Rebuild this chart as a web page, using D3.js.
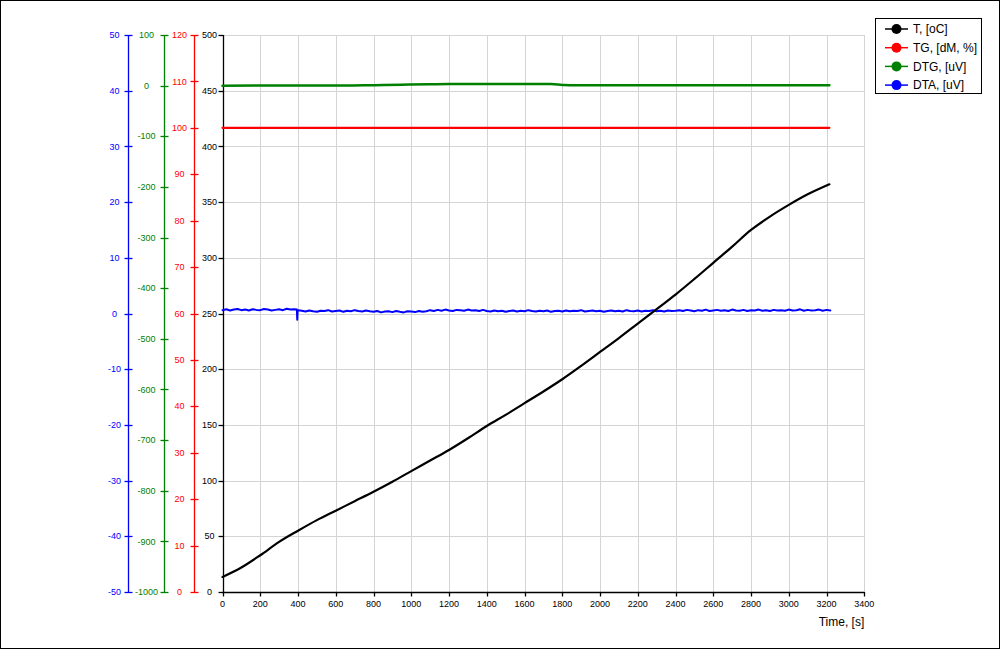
<!DOCTYPE html>
<html><head><meta charset="utf-8">
<script src="https://cdn.jsdelivr.net/npm/d3@7"></script>
<style>body{margin:0;background:#fff}svg{display:block;font-family:"Liberation Sans",Arial,sans-serif}</style>
</head><body><svg id="c" width="1000" height="649"></svg>
<script>
// ---- data ----
const seriesNames = ["T, [oC]", "TG, [dM, %]", "DTG, [uV]", "DTA, [uV]"];
const seriesColors = ["#000000", "#ff0000", "#008000", "#0000ff"];

const tTimes  = [0,100,200,300,400,500,600,700,800,900,1000,1100,1200,1300,1400,1500,1600,1700,1800,1900,2000,2100,2200,2300,2400,2500,2600,2700,2800,2900,3000,3100,3215];
const tValues = [13.5,22,33,45,55,64.5,73,81.5,90,99,108.5,118,127.5,138,149,159,169.5,180,191,203,215.5,228,241,254,267,281,295.5,310,325,337,347.5,357,366];

const tgTimes  = [0, 3215];
const tgValues = [100, 100];

const dtgTimes  = [0, 650, 800, 950, 1100, 1200, 1740, 1800, 1860, 3215];
const dtgValues = [0, 0.2, 1.0, 1.8, 2.8, 3, 3, 1.5, 0.6, 0.6];

const dtaStep = 20;
const dtaValues = [
0.6,0.75,0.55,0.7,0.8,0.6,0.7,0.55,0.75,0.65,0.6,0.8,0.7,0.55,0.65,0.75,0.6,0.85,0.7,0.75,
0.6,
0.5,0.35,0.55,0.4,0.3,0.5,0.45,0.6,0.35,0.45,0.55,0.3,0.5,0.4,0.6,0.45,0.35,0.55,0.4,
0.3,0.45,0.2,0.35,0.4,0.25,0.45,0.3,0.2,0.4,0.35,0.25,0.45,0.3,0.4,
0.6,0.45,0.65,0.5,0.7,0.55,0.45,0.65,0.6,0.5,0.7,0.55,0.6,0.45,0.65,
0.45,0.35,0.55,0.4,0.5,0.3,0.45,0.55,0.35,0.5,
0.4,0.6,0.45,0.35,0.5,0.4,0.55,0.3,0.45,0.5,
0.35,0.55,0.4,0.5,0.45,0.6,0.35,0.45,0.55,0.4,
0.5,0.3,0.45,0.55,0.4,0.5,0.35,0.6,0.45,0.4,
0.55,0.35,0.5,0.45,0.6,0.4,0.5,0.35,0.55,0.45,
0.5,0.6,0.45,0.65,0.55,0.4,0.6,0.5,0.7,0.45,
0.55,0.65,0.5,0.6,0.45,0.7,0.55,0.5,0.65,0.45,
0.6,0.55,0.7,0.5,0.6,0.45,0.65,0.55,0.6,0.5,
0.7,0.55,0.6,0.75,0.5,0.65,0.55,0.6,0.7,0.5,
0.65,0.55
];
// narrow downward spike in DTA near t≈396 s
const dtaSpikeTimes  = [394, 396, 398];
const dtaSpikeValues = [0.7, -1.1, 0.6];

const xTicks   = [0,200,400,600,800,1000,1200,1400,1600,1800,2000,2200,2400,2600,2800,3000,3200,3400];
const tTicks   = [0,50,100,150,200,250,300,350,400,450,500];
const tgTicks  = [0,10,20,30,40,50,60,70,80,90,100,110,120];
const dtgTicks = [-1000,-900,-800,-700,-600,-500,-400,-300,-200,-100,0,100];
const dtaTicks = [-50,-40,-30,-20,-10,0,10,20,30,40,50];
const xTitle = "Time, [s]";

// ---- scales ----
const pTop = 35, pBottom = 592, pLeft = 222.5, pRight = 864.3;
const x    = d3.scaleLinear([0, 3400], [pLeft, pRight]);
const yT   = d3.scaleLinear([0, 500], [pBottom, pTop]);
const yTG  = d3.scaleLinear([0, 120], [pBottom, pTop]);
const yDTG = d3.scaleLinear([-1000, 100], [pBottom, pTop]);
const yDTA = d3.scaleLinear([-50, 50], [pBottom, pTop]);

const svg = d3.select("#c");
svg.append("rect").attr("x",0.5).attr("y",0.5).attr("width",999).attr("height",648)
  .attr("fill","#fff").attr("stroke","#000");

// grid
const grid = svg.append("g").attr("stroke","#d4d4d4").attr("stroke-width",1);
grid.selectAll("line.v").data(xTicks.filter(d=>d>0)).join("line")
  .attr("x1",d=>Math.round(x(d))+0.5).attr("x2",d=>Math.round(x(d))+0.5)
  .attr("y1",pTop).attr("y2",pBottom);
grid.selectAll("line.h").data(tTicks.filter(d=>d>0)).join("line")
  .attr("x1",pLeft).attr("x2",pRight)
  .attr("y1",d=>Math.round(yT(d))+0.5).attr("y2",d=>Math.round(yT(d))+0.5);

// vertical axes
function vAxis(scale, ticks, ax, labelX, color, tickL, tickR) {
  const g = svg.append("g");
  const X = Math.round(ax)+0.5;
  g.append("line").attr("x1",X).attr("x2",X).attr("y1",pTop).attr("y2",pBottom)
    .attr("stroke",color).attr("stroke-width",1.3);
  g.selectAll("line.t").data(ticks).join("line")
    .attr("x1",X-tickL).attr("x2",X+tickR)
    .attr("y1",d=>Math.round(scale(d))+0.5).attr("y2",d=>Math.round(scale(d))+0.5)
    .attr("stroke",color).attr("stroke-width",1.3);
  g.selectAll("text").data(ticks).join("text")
    .attr("x",labelX).attr("y",d=>scale(d)).attr("dy","0.35em")
    .attr("text-anchor","middle").attr("font-size",9).attr("fill",color)
    .text(d=>d);
}
vAxis(yDTA, dtaTicks, 128, 114.5, "#0000ff", 4, 4);
vAxis(yDTG, dtgTicks, 164, 146.5, "#008000", 4, 4);
vAxis(yTG, tgTicks, 194, 179.5, "#ff0000", 4, 4);
vAxis(yT, tTicks, x(0), 209.5, "#000000", 5, 0);

// x axis
const xa = svg.append("g");
xa.append("line").attr("x1",pLeft).attr("x2",pRight).attr("y1",pBottom+0.5).attr("y2",pBottom+0.5)
  .attr("stroke","#000").attr("stroke-width",1.3);
xa.selectAll("line.t").data(xTicks).join("line")
  .attr("x1",d=>Math.round(x(d))+0.5).attr("x2",d=>Math.round(x(d))+0.5)
  .attr("y1",pBottom).attr("y2",pBottom+4.5).attr("stroke","#000").attr("stroke-width",1.3);
xa.selectAll("text").data(xTicks).join("text")
  .attr("x",d=>x(d)).attr("y",607).attr("text-anchor","middle")
  .attr("font-size",9).attr("fill","#000").text(d=>d);
svg.append("text").attr("x",pRight).attr("y",626).attr("text-anchor","end")
  .attr("font-size",12).attr("fill","#000").text(xTitle);

// series
const lines = svg.append("g");
function drawPts(pts, scale, color, w, curve) {
  lines.append("path").datum(pts)
    .attr("fill","none").attr("stroke",color).attr("stroke-width",w)
    .attr("stroke-linejoin","round").attr("stroke-linecap","round")
    .attr("d", d3.line().x(d=>x(d[0])).y(d=>scale(d[1])).curve(curve));
}
const zip = (ts, vs) => ts.map((t,i)=>[t, vs[i]]);
const dtaPts = dtaValues.map((v,i)=>[i*dtaStep, v])
  .concat(zip(dtaSpikeTimes, dtaSpikeValues))
  .sort((a,b)=>a[0]-b[0]);
drawPts(dtaPts, yDTA, seriesColors[3], 2, d3.curveLinear);
drawPts(zip(dtgTimes, dtgValues), yDTG, seriesColors[2], 2.5, d3.curveMonotoneX);
drawPts(zip(tgTimes, tgValues), yTG, seriesColors[1], 2.2, d3.curveLinear);
drawPts(zip(tTimes, tValues), yT, seriesColors[0], 2.2, d3.curveCatmullRom);

// legend
const lg = svg.append("g");
lg.append("rect").attr("x",875.5).attr("y",18.5).attr("width",106).attr("height",75)
  .attr("fill","#fff").attr("stroke","#000");
const rowY = [29, 47.7, 66.4, 85.1];
seriesNames.forEach((n,i)=>{
  lg.append("line").attr("x1",885).attr("x2",908).attr("y1",rowY[i]).attr("y2",rowY[i])
    .attr("stroke",seriesColors[i]).attr("stroke-width",1.5);
  lg.append("circle").attr("cx",896.5).attr("cy",rowY[i]).attr("r",5).attr("fill",seriesColors[i]);
  lg.append("text").attr("x",913).attr("y",rowY[i]).attr("dy","0.35em")
    .attr("font-size",12).attr("fill","#000").text(n);
});
</script></body></html>
